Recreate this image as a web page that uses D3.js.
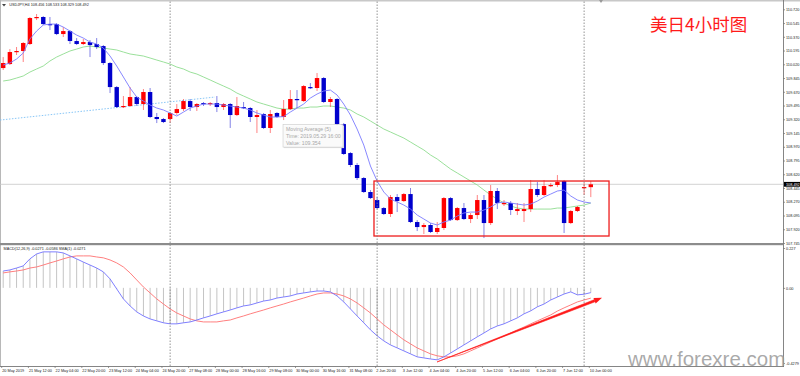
<!DOCTYPE html>
<html>
<head>
<meta charset="utf-8">
<script src="https://cdnjs.cloudflare.com/ajax/libs/d3/7.8.5/d3.min.js"></script>
<style>
body{margin:0;background:#fff;}
svg{display:block;font-family:'Liberation Sans',Arial,sans-serif;}
</style>
</head>
<body>
<svg id="chart" width="800" height="376"></svg>
<script>
// USDJPY H4, bars 0..88
var opens = [109.972,110.023,110.176,110.189,110.278,110.609,110.622,110.532,110.532,110.405,
110.443,110.316,110.278,110.303,110.278,110.252,110.036,109.730,109.476,109.489,
109.603,109.514,109.667,109.349,109.323,109.323,109.400,109.450,109.552,109.476,
109.527,109.514,109.527,109.476,109.514,109.374,109.476,109.463,109.349,109.387,
109.209,109.400,109.349,109.450,109.578,109.552,109.730,109.718,109.845,109.540,
109.578,109.259,108.890,108.738,108.572,108.394,108.292,108.190,108.114,108.330,
108.279,108.368,108.012,107.948,107.974,107.885,107.936,108.317,108.037,108.190,
108.050,108.101,108.292,107.999,108.407,108.241,108.254,108.152,108.152,108.177,
108.432,108.356,108.470,108.483,108.534,107.999,108.152,108.445,108.456]
var highs = [110.112,110.214,110.240,110.303,110.622,110.660,110.634,110.622,110.545,110.494,
110.456,110.354,110.342,110.329,110.354,110.265,110.049,109.743,109.616,109.730,
109.616,109.705,109.718,109.400,109.336,109.412,109.514,109.578,109.578,109.527,
109.540,109.540,109.616,109.527,109.527,109.603,109.540,109.476,109.438,109.400,
109.438,109.412,109.565,109.692,109.692,109.756,109.781,109.909,109.858,109.603,
109.590,109.272,108.903,108.763,108.585,108.419,108.330,108.203,108.356,108.368,
108.381,108.445,108.037,107.999,107.999,108.012,108.330,108.330,108.203,108.254,
108.127,108.356,108.356,108.483,108.445,108.292,108.279,108.254,108.254,108.547,
108.521,108.547,108.508,108.610,108.547,108.165,108.216,108.508,108.533]
var lows = [109.947,110.011,110.138,110.049,110.265,110.583,110.520,110.456,110.392,110.367,
110.278,110.265,110.265,110.112,110.214,110.011,109.654,109.463,109.463,109.476,
109.489,109.438,109.336,109.272,109.272,109.272,109.374,109.425,109.425,109.425,
109.489,109.489,109.412,109.438,109.209,109.361,109.450,109.285,109.145,109.196,
109.145,109.336,109.310,109.438,109.463,109.540,109.705,109.680,109.527,109.476,
109.221,108.865,108.712,108.547,108.381,108.305,108.177,108.101,108.076,108.139,
108.267,107.999,107.897,107.859,107.872,107.859,107.910,108.025,108.025,108.037,
107.999,108.050,107.808,107.974,108.177,108.216,108.101,108.101,108.012,108.139,
108.330,108.343,108.457,108.457,107.872,107.986,108.139,108.356,108.329]
var closes = [110.036,110.176,110.189,110.291,110.609,110.622,110.532,110.526,110.405,110.443,
110.316,110.278,110.303,110.265,110.240,110.036,109.730,109.476,109.489,109.603,
109.514,109.667,109.349,109.323,109.285,109.400,109.450,109.552,109.476,109.514,
109.514,109.527,109.476,109.514,109.374,109.489,109.463,109.349,109.374,109.209,
109.387,109.349,109.450,109.578,109.565,109.743,109.718,109.845,109.540,109.578,
109.259,108.878,108.738,108.572,108.394,108.317,108.190,108.114,108.330,108.279,
108.368,108.012,107.948,107.974,107.885,107.936,108.317,108.037,108.190,108.050,
108.101,108.292,107.999,108.407,108.254,108.254,108.165,108.177,108.177,108.432,
108.356,108.470,108.483,108.521,107.999,108.152,108.203,108.457,108.492]

// moving average (5) - blue, slow moving average - green
var ma5 = [110.011,110.036,110.087,110.163,110.342,110.443,110.520,110.532,110.532,110.494,
110.443,110.392,110.354,110.303,110.278,110.227,110.125,109.998,109.858,109.718,
109.603,109.552,109.501,109.463,109.438,109.400,109.361,109.412,109.463,109.489,
109.514,109.514,109.514,109.501,109.489,109.476,109.463,109.438,109.400,109.374,
109.349,109.349,109.354,109.412,109.463,109.514,109.590,109.641,109.680,109.692,
109.629,109.514,109.374,109.196,108.992,108.725,108.534,108.394,108.305,108.267,
108.228,108.177,108.101,108.050,107.999,107.974,108.012,108.037,108.088,108.127,
108.139,108.139,108.165,108.203,108.254,108.267,108.254,108.241,108.228,108.241,
108.279,108.330,108.368,108.407,108.419,108.343,108.292,108.267,108.254]
var maSlow = [109.807,109.820,109.845,109.871,109.921,109.960,109.998,110.062,110.112,110.151,
110.189,110.214,110.240,110.252,110.240,110.227,110.214,110.202,110.176,110.151,
110.138,110.125,110.100,110.074,110.049,110.023,109.985,109.960,109.921,109.896,
109.858,109.820,109.781,109.743,109.705,109.654,109.616,109.578,109.540,109.514,
109.489,109.463,109.450,109.450,109.463,109.463,109.476,109.476,109.489,109.489,
109.476,109.463,109.438,109.387,109.349,109.298,109.247,109.196,109.158,109.119,
109.081,109.030,108.979,108.929,108.865,108.814,108.750,108.687,108.636,108.585,
108.534,108.483,108.419,108.356,108.305,108.254,108.216,108.190,108.177,108.177,
108.177,108.177,108.177,108.190,108.190,108.203,108.216,108.228,108.254]

// MACD(12,26,9)
var macdMain = [0.096,0.102,0.113,0.125,0.165,0.193,0.205,0.205,0.205,0.199,
0.182,0.165,0.147,0.130,0.113,0.091,0.051,-0.006,-0.063,-0.103,
-0.137,-0.160,-0.177,-0.188,-0.199,-0.205,-0.205,-0.199,-0.194,-0.183,
-0.171,-0.160,-0.148,-0.137,-0.126,-0.114,-0.103,-0.097,-0.086,-0.075,
-0.069,-0.058,-0.052,-0.046,-0.035,-0.029,-0.023,-0.018,-0.018,-0.023,
-0.046,-0.080,-0.120,-0.160,-0.199,-0.239,-0.273,-0.302,-0.325,-0.342,
-0.359,-0.376,-0.393,-0.399,-0.405,-0.410,-0.393,-0.371,-0.348,-0.325,
-0.302,-0.279,-0.257,-0.234,-0.217,-0.205,-0.188,-0.171,-0.148,-0.131,
-0.108,-0.092,-0.069,-0.052,-0.035,-0.023,-0.040,-0.036,-0.0271]
var macdSignal = [0.085,0.091,0.096,0.102,0.113,0.119,0.130,0.142,0.153,0.165,
0.176,0.182,0.182,0.182,0.176,0.171,0.159,0.142,0.119,0.085,
0.045,0.005,-0.029,-0.063,-0.092,-0.120,-0.143,-0.160,-0.177,-0.188,
-0.194,-0.194,-0.194,-0.188,-0.183,-0.171,-0.160,-0.148,-0.137,-0.126,
-0.114,-0.103,-0.092,-0.080,-0.069,-0.058,-0.046,-0.035,-0.029,-0.029,
-0.035,-0.046,-0.063,-0.086,-0.114,-0.143,-0.177,-0.211,-0.239,-0.268,
-0.296,-0.319,-0.342,-0.359,-0.376,-0.387,-0.393,-0.393,-0.387,-0.376,
-0.359,-0.342,-0.325,-0.308,-0.291,-0.274,-0.257,-0.239,-0.223,-0.205,
-0.188,-0.171,-0.154,-0.132,-0.114,-0.097,-0.080,-0.069,-0.0586]

var priceTicks = [110.720,110.545,110.370,110.195,110.020,109.845,109.670,109.495,109.320,
  109.145,108.970,108.795,108.620,108.445,108.270,108.095,107.920,107.745]
var macdTicks = [0.227, 0, -0.4279]
var macdTickLabels = ['0.227', '0.00', '-0.4279']
var timeIdx = d3.range(0, 89, 4)
var timeLabels = ['20 May 2019','21 May 12:00','22 May 04:00','22 May 20:00','23 May 12:00',
  '24 May 04:00','24 May 20:00','27 May 08:00','28 May 00:00','28 May 16:00','29 May 08:00',
  '30 May 00:00','30 May 16:00','31 May 08:00','2 Jun 20:00','3 Jun 12:00','4 Jun 04:00',
  '4 Jun 20:00','5 Jun 12:00','6 Jun 04:00','6 Jun 20:00','7 Jun 12:00','10 Jun 00:00']
var weekStarts = [25, 56, 87]
var lastPrice = 108.492

// annotations (bar index / price)
var trendLine = [{i: -0.48, p: 109.310}, {i: 31.72, p: 109.603}]
var rangeBox = {i0: 55.53, i1: 90.73, hi: 108.534, lo: 107.834}
var arrow = {i0: 64.97, v0: -0.422, i1: 89.68, v1: -0.057}
var tip = {i: 42, p: 109.354, lines: ['Moving Average (5)', 'Time: 2019.05.29 16:00', 'Value: 109.354']}


var svg = d3.select('#chart')
var right = 783
var fs = 3.8

var x = d3.scaleLinear().domain([0, 88]).range([3.2, 590.8])
var y = d3.scaleLinear().domain([107.745, 110.720]).range([243, 9.3])
var ym = d3.scaleLinear().domain([-0.4279, 0.227]).range([363, 248])

var bars = opens.map((o, i) => ({i, o, h: highs[i], l: lows[i], c: closes[i]}))

var defs = svg.append('defs')
defs.append('clipPath').attr('id', 'clip-main')
  .append('rect').attr('x', 0).attr('y', 1.5).attr('width', right).attr('height', 241.5)
defs.append('clipPath').attr('id', 'clip-macd')
  .append('rect').attr('x', 0).attr('y', 245.5).attr('width', right).attr('height', 120.5)

// frame
svg.append('rect').attr('x', 0).attr('y', 0).attr('width', 800).attr('height', 1.5).attr('fill', '#c8c8c8')
svg.append('path').attr('d', 'M599,0 L603,0 L601,3 Z').attr('fill', '#999')
svg.append('line').attr('x1', 0.5).attr('x2', 0.5).attr('y1', 0).attr('y2', 366)
  .attr('stroke', '#b8b8b8')

var main = svg.append('g').attr('clip-path', 'url(#clip-main)')
var macd = svg.append('g').attr('clip-path', 'url(#clip-macd)')

// current price line
main.append('line')
  .attr('x1', 0).attr('x2', right)
  .attr('y1', y(lastPrice)).attr('y2', y(lastPrice))
  .attr('stroke', '#c8c8c8').attr('stroke-width', 0.8)

// weekly separators through both panels
svg.selectAll('line.sep').data(weekStarts).join('line')
  .attr('class', 'sep')
  .attr('x1', d => x(d)).attr('x2', d => x(d))
  .attr('y1', 1.5).attr('y2', 366)
  .attr('stroke', '#7a7a7a').attr('stroke-width', 0.8)
  .attr('stroke-dasharray', '1.5,1.5')

// dotted trend line
main.append('line')
  .attr('x1', x(trendLine[0].i)).attr('y1', y(trendLine[0].p))
  .attr('x2', x(trendLine[1].i)).attr('y2', y(trendLine[1].p))
  .attr('stroke', '#7cc0f5').attr('stroke-width', 0.9)
  .attr('stroke-dasharray', '1.5,1.5')

var line = d3.line().x((d, i) => x(i)).y(d => y(d))

main.append('path').datum(maSlow)
  .attr('d', line)
  .attr('fill', 'none').attr('stroke', '#8fdc8f').attr('stroke-width', 0.9)

// candles
var up = '#ff0000', down = '#0000cd'
var candle = main.selectAll('g.candle').data(bars).join('g').attr('class', 'candle')

candle.append('line')
  .attr('x1', d => x(d.i)).attr('x2', d => x(d.i))
  .attr('y1', d => y(d.h)).attr('y2', d => y(d.l))
  .attr('stroke', d => d.c >= d.o ? up : down)
  .attr('stroke-opacity', 0.55).attr('stroke-width', 0.9)

candle.append('rect')
  .attr('x', d => x(d.i) - 2.2)
  .attr('width', 4.4)
  .attr('y', d => Math.min(y(d.o), y(d.c)))
  .attr('height', d => Math.max(1.2, Math.abs(y(d.o) - y(d.c))))
  .attr('fill', d => d.c >= d.o ? up : down)

main.append('path').datum(ma5)
  .attr('d', line)
  .attr('fill', 'none').attr('stroke', '#7a7aff').attr('stroke-width', 0.9)

// consolidation box
main.append('rect')
  .attr('x', x(rangeBox.i0)).attr('y', y(rangeBox.hi))
  .attr('width', x(rangeBox.i1) - x(rangeBox.i0))
  .attr('height', y(rangeBox.lo) - y(rangeBox.hi))
  .attr('fill', 'none').attr('stroke', '#ee1c1c').attr('stroke-width', 1.3)

// tooltip
var tg = main.append('g').attr('transform', `translate(${x(tip.i) - 0.6},${y(tip.p) + 8})`)
tg.append('rect').attr('x', 1).attr('y', 1).attr('width', 60).attr('height', 22.5).attr('fill', '#e2e2e2')
tg.append('rect').attr('width', 60).attr('height', 22.5)
  .attr('fill', '#fcfcfc').attr('fill-opacity', 0.92).attr('stroke', '#c9c9c9').attr('stroke-width', 0.6)
tg.selectAll('text').data(tip.lines).join('text')
  .attr('x', 3).attr('y', (d, i) => 6.8 + i*6.6)
  .attr('font-size', 5.2).attr('fill', '#a8a8a8')
  .text(d => d)

// panel separator
svg.append('rect').attr('x', 0).attr('y', 243).attr('width', right).attr('height', 2.2).attr('fill', '#8c8c8c')

// MACD
macd.selectAll('line.hist').data(macdMain).join('line')
  .attr('class', 'hist')
  .attr('x1', (d, i) => x(i)).attr('x2', (d, i) => x(i))
  .attr('y1', ym(0)).attr('y2', d => ym(d))
  .attr('stroke', '#bdbdbd').attr('stroke-width', 0.9)

var mline = d3.line().x((d, i) => x(i)).y(d => ym(d))
macd.append('path').datum(macdSignal).attr('d', mline)
  .attr('fill', 'none').attr('stroke', '#ff7070').attr('stroke-width', 0.9)
macd.append('path').datum(macdMain).attr('d', mline)
  .attr('fill', 'none').attr('stroke', '#7070ff').attr('stroke-width', 0.9)

// red arrow
var ax0 = x(arrow.i0), ay0 = ym(arrow.v0), ax1 = x(arrow.i1), ay1 = ym(arrow.v1)
var ang = Math.atan2(ay1 - ay0, ax1 - ax0)
var hl = 8, hw = 3
var bx = ax1 - hl*Math.cos(ang), by = ay1 - hl*Math.sin(ang)
svg.append('path')
  .attr('d', `M${ax0},${ay0} L${bx + 1.1*Math.sin(ang)},${by - 1.1*Math.cos(ang)} L${bx - 1.1*Math.sin(ang)},${by + 1.1*Math.cos(ang)} Z`)
  .attr('fill', '#ff1a1a').attr('stroke', '#ff1a1a').attr('stroke-width', 0.6)
svg.append('path')
  .attr('d', `M${ax1},${ay1} L${bx + hw*Math.sin(ang)},${by - hw*Math.cos(ang)} L${bx - hw*Math.sin(ang)},${by + hw*Math.cos(ang)} Z`)
  .attr('fill', '#ff1a1a')

// axes
var yAxis = svg.append('g').attr('transform', `translate(${right},0)`)
  .call(d3.axisRight(y).tickValues(priceTicks).tickFormat(d3.format('.3f')).tickSize(2).tickPadding(1).tickSizeOuter(0))
var mAxis = svg.append('g').attr('transform', `translate(${right},0)`)
  .call(d3.axisRight(ym).tickValues(macdTicks).tickFormat((d, i) => macdTickLabels[i]).tickSize(2).tickPadding(1).tickSizeOuter(0))
var xAxis = svg.append('g').attr('transform', 'translate(-2,366)')
  .call(d3.axisBottom(x).tickValues(timeIdx).tickFormat((d, i) => timeLabels[i]).tickSize(2).tickPadding(1).tickSizeOuter(0))

;[yAxis, mAxis, xAxis].forEach(a => {
  a.select('.domain').remove()
  a.selectAll('.tick line').attr('stroke', '#555').attr('stroke-width', 0.6)
  a.selectAll('.tick text').attr('font-size', fs).attr('fill', '#222')
    .attr('font-family', "'Liberation Sans', Arial, sans-serif")
})
xAxis.selectAll('.tick text').attr('text-anchor', 'start').attr('x', 0.5)

svg.append('line').attr('x1', right + 0.5).attr('x2', right + 0.5).attr('y1', 0).attr('y2', 367)
  .attr('stroke', '#777').attr('stroke-width', 0.9)
svg.append('line').attr('x1', 0).attr('x2', right + 1).attr('y1', 366.5).attr('y2', 366.5)
  .attr('stroke', '#777').attr('stroke-width', 0.9)

// last price tag
svg.append('rect').attr('x', right + 1).attr('y', y(lastPrice) - 2.4).attr('width', 16).attr('height', 4.8).attr('fill', '#000')
svg.append('text').attr('x', right + 3).attr('y', y(lastPrice)).attr('dy', '0.35em')
  .attr('font-size', fs).attr('fill', '#fff').text(d3.format('.3f')(lastPrice))

// labels
svg.append('path').attr('d', 'M2,4 L6,4 L4,6.5 Z').attr('fill', '#444')
svg.append('text').attr('x', 9.3).attr('y', 6.3).attr('font-size', fs).attr('fill', '#222')
  .text('USDJPY,H4  108.456 108.533 108.329 108.492')
svg.append('text').attr('x', 3.5).attr('y', 250.3).attr('font-size', fs).attr('fill', '#222')
  .text('MACD(12,26,9) -0.0271 -0.0586  SMA(1) -0.0271')

svg.append('text').attr('x', 650).attr('y', 30.5)
  .attr('font-family', "'Noto Sans CJK SC', sans-serif").attr('font-size', 17.5)
  .attr('fill', '#ff1a1a').text('美日4小时图')

svg.append('text').attr('x', 628).attr('y', 366)
  .attr('font-family', "'Liberation Sans', Arial, sans-serif").attr('font-size', 20.5)
  .attr('fill', '#9a9a9a').attr('fill-opacity', 0.85).text('www.forexre.com')
</script>
</body>
</html>
